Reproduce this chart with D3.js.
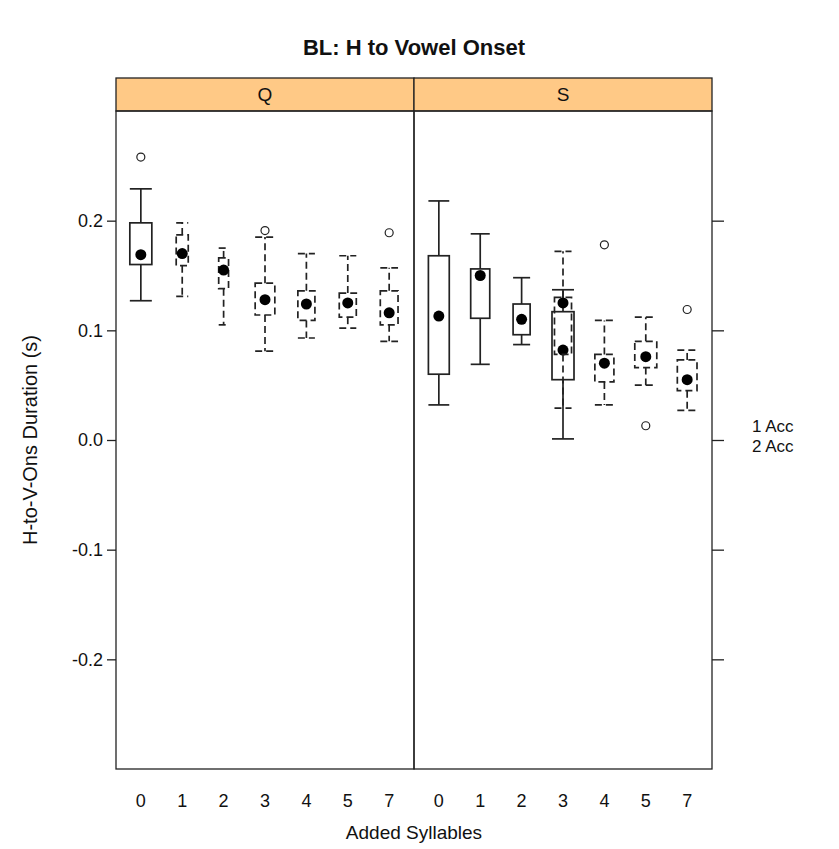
<!DOCTYPE html>
<html>
<head>
<meta charset="utf-8">
<script src="https://cdn.jsdelivr.net/npm/d3@7"></script>
<style>
  body { margin: 0; background: #fff; }
  svg { display: block; font-family: "Liberation Sans", Arial, sans-serif; }
</style>
</head>
<body>
<div id="chart"></div>
<script>
// panels, categories, groups
const panels = ['Q', 'S'];
const syllables = ['0', '1', '2', '3', '4', '5', '7'];
const groups = ['1 Acc', '2 Acc'];
const yTicks = [-0.2, -0.1, 0.0, 0.1, 0.2];

// [panel, syllables, group, lowWhisker, q1, median, q3, highWhisker, n]
const boxStats = [
  ['Q', '0', '1 Acc', 0.127, 0.160, 0.169, 0.198, 0.229, 20],
  ['Q', '1', '2 Acc', 0.131, 0.159, 0.170, 0.187, 0.198, 6],
  ['Q', '2', '2 Acc', 0.105, 0.138, 0.155, 0.166, 0.175, 4],
  ['Q', '3', '2 Acc', 0.081, 0.114, 0.128, 0.143, 0.185, 16],
  ['Q', '4', '2 Acc', 0.093, 0.109, 0.124, 0.136, 0.170, 12],
  ['Q', '5', '2 Acc', 0.102, 0.112, 0.125, 0.134, 0.168, 12],
  ['Q', '7', '2 Acc', 0.090, 0.105, 0.116, 0.136, 0.157, 13],
  ['S', '0', '1 Acc', 0.032, 0.060, 0.113, 0.168, 0.218, 18],
  ['S', '1', '1 Acc', 0.069, 0.111, 0.150, 0.156, 0.188, 15],
  ['S', '2', '1 Acc', 0.087, 0.096, 0.110, 0.124, 0.148, 12],
  ['S', '3', '1 Acc', 0.001, 0.055, 0.082, 0.117, 0.137, 20],
  ['S', '3', '2 Acc', 0.029, 0.078, 0.125, 0.130, 0.172, 12],
  ['S', '4', '2 Acc', 0.032, 0.053, 0.070, 0.078, 0.109, 15],
  ['S', '5', '2 Acc', 0.050, 0.066, 0.076, 0.090, 0.112, 20],
  ['S', '7', '2 Acc', 0.027, 0.045, 0.055, 0.073, 0.082, 16]
];

// [panel, syllables, group, value]
const outliers = [
  ['Q', '0', '1 Acc', 0.258],
  ['Q', '3', '2 Acc', 0.191],
  ['Q', '7', '2 Acc', 0.189],
  ['S', '4', '2 Acc', 0.178],
  ['S', '5', '2 Acc', 0.013],
  ['S', '7', '2 Acc', 0.119]
];

const width = 839;
const height = 849;
const panelLeft = 116;
const panelW = 298;
const panelTop = 111;
const panelBottom = 769;
const stripH = 33;
const lineCol = '#222';
const textCol = '#111';

const svg = d3.select('#chart')
  .append('svg')
  .attr('width', width)
  .attr('height', height);

// Scales
const y = d3.scaleLinear()
  .domain([-0.3, 0.3])
  .range([panelBottom, panelTop]);

const xPanel = d3.scaleBand()
  .domain(panels)
  .range([panelLeft, panelLeft + panelW * 2]);

// lattice-style factor positions: 1..7 over limits 0.4..7.6
const xPos = d3.scaleLinear()
  .domain([0.4, syllables.length + 0.6])
  .range([0, panelW]);

const boxW = d3.scaleSqrt()
  .domain([0, d3.max(boxStats, d => d[8])])
  .range([0, 22]);

const dashFor = g => g === '2 Acc' ? '7,4' : null;

// Title
svg.append('text')
  .attr('x', panelLeft + panelW)
  .attr('y', 55)
  .attr('text-anchor', 'middle')
  .attr('font-size', '22px')
  .attr('font-weight', 'bold')
  .attr('fill', textCol)
  .text('BL: H to Vowel Onset');

panels.forEach((p, pi) => {
  const x0 = xPanel(p);
  const g = svg.append('g').attr('transform', `translate(${x0},0)`);

  // strip
  g.append('rect')
    .attr('x', 0).attr('y', panelTop - stripH)
    .attr('width', panelW).attr('height', stripH)
    .attr('fill', '#ffc986')
    .attr('stroke', lineCol)
    .attr('stroke-width', 1.3);

  g.append('text')
    .attr('x', panelW / 2)
    .attr('y', panelTop - stripH / 2)
    .attr('dy', '0.36em')
    .attr('text-anchor', 'middle')
    .attr('font-size', '19px')
    .attr('fill', textCol)
    .text(p);

  // panel frame
  g.append('rect')
    .attr('x', 0).attr('y', panelTop)
    .attr('width', panelW).attr('height', panelBottom - panelTop)
    .attr('fill', 'none')
    .attr('stroke', lineCol)
    .attr('stroke-width', 1.3);

  // x tick labels
  g.selectAll('.xlab')
    .data(syllables)
    .enter()
    .append('text')
    .attr('x', (d, i) => xPos(i + 1))
    .attr('y', panelBottom + 38)
    .attr('text-anchor', 'middle')
    .attr('font-size', '18px')
    .attr('fill', textCol)
    .text(d => d);

  // boxes
  const stats = boxStats.filter(d => d[0] === p);
  stats.forEach(d => {
    const cx = xPos(syllables.indexOf(d[1]) + 1);
    const w = boxW(d[8]);
    const dash = dashFor(d[2]);
    const bg = g.append('g')
      .attr('fill', 'none')
      .attr('stroke', lineCol)
      .attr('stroke-width', 1.7)
      .attr('stroke-dasharray', dash);

    // whiskers
    bg.append('line')
      .attr('x1', cx).attr('x2', cx)
      .attr('y1', y(d[6])).attr('y2', y(d[7]));
    bg.append('line')
      .attr('x1', cx).attr('x2', cx)
      .attr('y1', y(d[4])).attr('y2', y(d[3]));
    // caps
    [d[3], d[7]].forEach(v => {
      bg.append('line')
        .attr('x1', cx - w / 2).attr('x2', cx + w / 2)
        .attr('y1', y(v)).attr('y2', y(v));
    });
    // box
    bg.append('rect')
      .attr('x', cx - w / 2)
      .attr('y', y(d[6]))
      .attr('width', w)
      .attr('height', y(d[4]) - y(d[6]));

    // median dot
    g.append('circle')
      .attr('cx', cx)
      .attr('cy', y(d[5]))
      .attr('r', 5.5)
      .attr('fill', '#000');
  });

  // outliers
  g.selectAll('.out')
    .data(outliers.filter(d => d[0] === p))
    .enter()
    .append('circle')
    .attr('cx', d => xPos(syllables.indexOf(d[1]) + 1))
    .attr('cy', d => y(d[3]))
    .attr('r', 4)
    .attr('fill', '#fff')
    .attr('stroke', lineCol)
    .attr('stroke-width', 1.2);
});

// Y axis left (Q panel)
const yAxisLeft = svg.append('g')
  .attr('transform', `translate(${panelLeft},0)`)
  .call(d3.axisLeft(y).tickValues(yTicks).tickFormat(d => d.toFixed(1)).tickSize(9).tickPadding(4));
yAxisLeft.select('.domain').remove();
yAxisLeft.selectAll('line').attr('stroke', lineCol).attr('stroke-width', 1.3);
yAxisLeft.selectAll('text')
  .attr('font-size', '18px')
  .attr('fill', textCol)
  .attr('font-family', '"Liberation Sans", Arial, sans-serif');

// Y axis right (S panel) - ticks only
const yAxisRight = svg.append('g')
  .attr('transform', `translate(${panelLeft + panelW * 2},0)`)
  .call(d3.axisRight(y).tickValues(yTicks).tickFormat('').tickSize(12));
yAxisRight.select('.domain').remove();
yAxisRight.selectAll('line').attr('stroke', lineCol).attr('stroke-width', 1.3);

// axis titles
svg.append('text')
  .attr('x', panelLeft + panelW)
  .attr('y', 839)
  .attr('text-anchor', 'middle')
  .attr('font-size', '19px')
  .attr('fill', textCol)
  .text('Added Syllables');

svg.append('text')
  .attr('transform', `translate(37,${y(0)}) rotate(-90)`)
  .attr('text-anchor', 'middle')
  .attr('font-size', '20px')
  .attr('fill', textCol)
  .text('H-to-V-Ons Duration (s)');

// legend (text only)
svg.append('g')
  .selectAll('text')
  .data(groups)
  .enter()
  .append('text')
  .attr('x', 752)
  .attr('y', (d, i) => 432 + i * 20)
  .attr('font-size', '17px')
  .attr('fill', textCol)
  .text(d => d);
</script>
</body>
</html>
